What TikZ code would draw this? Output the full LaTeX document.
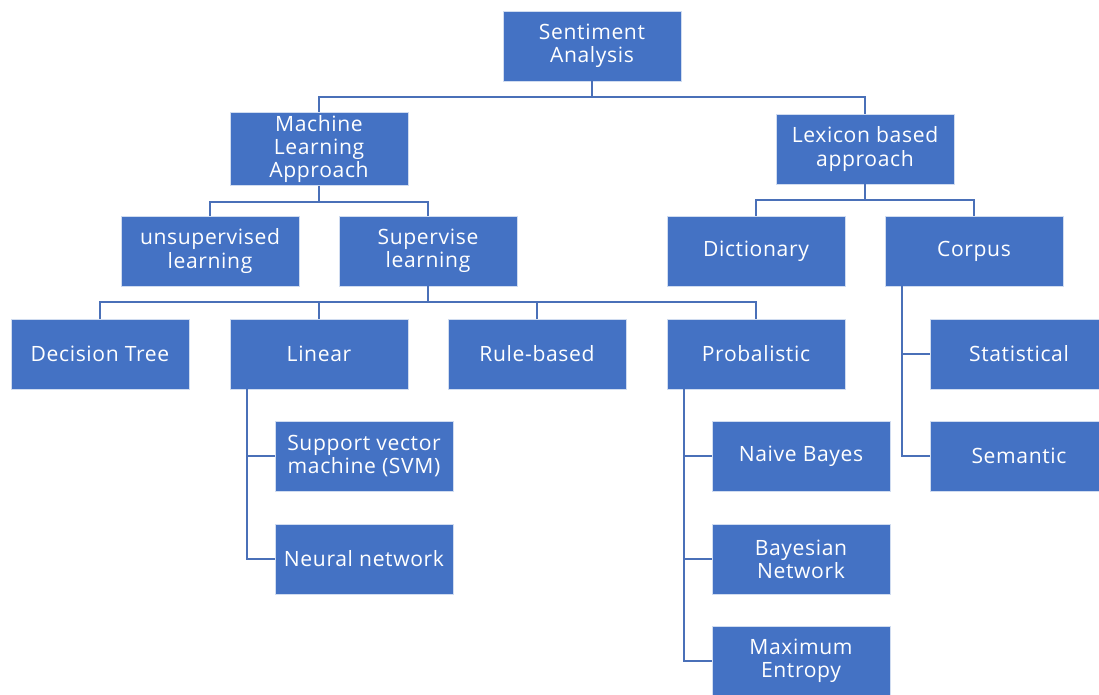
\documentclass[tikz,border=0pt]{standalone}
\usepackage{fontspec}
\setmainfont[LetterSpace=3]{Open Sans}
\usepackage{tikz}
\usetikzlibrary{calc}
\definecolor{boxblue}{HTML}{4472C4}
\definecolor{lineblue}{HTML}{4A70B8}

\begin{document}
\begin{tikzpicture}[x=0.025cm, y=-0.025cm,
		box/.style={rectangle, fill=boxblue, draw=white!75!boxblue, line width=0.5pt,
			minimum width=4.45cm, minimum height=1.75cm, inner sep=2pt,
			text=white, align=center, font=\fontsize{15}{16.5}\selectfont},
		link/.style={draw=lineblue, line width=1.3pt}]
		%%%%% START %%%%%
		\useasboundingbox (0,0) rectangle (1099,695);
		\clip (0,0) rectangle (1099,695);
		
		\node[box] (sa) at (592, 46) {Sentiment\\Analysis};
		
		\node[box] (ml) at (319, 149) {Machine\\Learning\\Approach};
		\node[box] (lex) at (865, 149) {Lexicon based\\approach};
		
		\node[box] (unsup) at (210, 251) {unsupervised\\learning};
		\node[box] (sup) at (428, 251) {Supervise\\learning};
		\node[box] (dict) at (756, 251) {Dictionary};
		\node[box] (corp) at (974, 251) {Corpus};
		
		\node[box] (dt) at (100, 354) {Decision Tree};
		\node[box] (lin) at (319, 354) {Linear};
		\node[box] (rule) at (537, 354) {Rule-based};
		\node[box] (prob) at (756, 354) {Probalistic};
		\node[box] (stat) at (1019, 354) {Statistical};
		\node[box] (sem) at (1019, 456) {Semantic};
		
		\node[box] (svm) at (364, 456) {Support vector\\machine (SVM)};
		\node[box] (nn) at (364, 559) {Neural network};
		
		\node[box] (nb) at (801, 456) {Naive Bayes};
		\node[box] (bn) at (801, 559) {Bayesian\\Network};
		\node[box] (me) at (801, 661) {Maximum\\Entropy};
		
		% top levels
		\draw[link] (sa.south) -- ++(0,16) -| (ml.north);
		\draw[link] (sa.south) -- ++(0,16) -| (lex.north);
		
		\draw[link] (ml.south) -- ++(0,16) -| (unsup.north);
		\draw[link] (ml.south) -- ++(0,16) -| (sup.north);
		
		\draw[link] (lex.south) -- ++(0,16) -| (dict.north);
		\draw[link] (lex.south) -- ++(0,16) -| (corp.north);
		
		\draw[link] (sup.south) -- ++(0,16) -| (dt.north);
		\draw[link] (sup.south) -- ++(0,16) -| (lin.north);
		\draw[link] (sup.south) -- ++(0,16) -| (rule.north);
		\draw[link] (sup.south) -- ++(0,16) -| (prob.north);
		
		% side branches
		\draw[link] ([xshift=0.425cm]lin.south west) |- (svm.west);
		\draw[link] ([xshift=0.425cm]lin.south west) |- (nn.west);
		
		\draw[link] ([xshift=0.425cm]prob.south west) |- (nb.west);
		\draw[link] ([xshift=0.425cm]prob.south west) |- (bn.west);
		\draw[link] ([xshift=0.425cm]prob.south west) |- (me.west);
		
		\draw[link] ([xshift=0.425cm]corp.south west) |- (stat.west);
		\draw[link] ([xshift=0.425cm]corp.south west) |- (sem.west);
		%%%%% END %%%%%
	\end{tikzpicture}
\end{document}
